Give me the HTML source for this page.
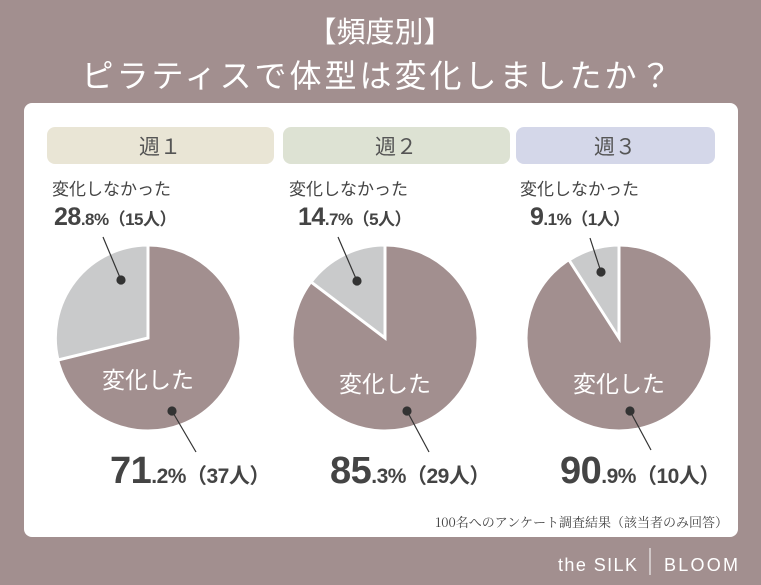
<!DOCTYPE html>
<html><head><meta charset="utf-8"><style>
html,body{margin:0;padding:0;background:#a28f8f;}
svg{display:block;font-family:"Liberation Sans","Noto Sans CJK JP",sans-serif;}
</style></head><body>
<svg width="761" height="585" viewBox="0 0 761 585">
<rect width="761" height="585" fill="#a28f8f"/>
<text x="380" y="42" text-anchor="middle" font-size="29" fill="#fff">【頻度別】</text>
<text x="378" y="87" text-anchor="middle" font-size="32" fill="#fff" letter-spacing="3">ピラティスで体型は変化しましたか？</text>
<rect x="24" y="103" width="714" height="434" rx="8" fill="#fff"/>
<rect x="47" y="127" width="227" height="37" rx="8" fill="#e9e5d5"/>
<rect x="283" y="127" width="227" height="37" rx="8" fill="#dde2d3"/>
<rect x="516" y="127" width="199" height="37" rx="8" fill="#d4d7e9"/>
<g font-size="21" fill="#555" text-anchor="middle">
<text x="160" y="154">週１</text><text x="396" y="154">週２</text><text x="615" y="154">週３</text>
</g>
<g stroke="#fff" stroke-width="3">
<circle cx="148" cy="338" r="93" fill="#a28f8f"/>
<path d="M148 338 L58 360 A93 93 0 0 1 148 245 Z" fill="#c9cacb"/>
<circle cx="385" cy="338" r="93" fill="#a28f8f"/>
<path d="M385 338 L311 282 A93 93 0 0 1 385 245 Z" fill="#c9cacb"/>
<circle cx="619" cy="338" r="93" fill="#a28f8f"/>
<path d="M619 338 L569 260 A93 93 0 0 1 619 245 Z" fill="#c9cacb"/>
</g>
<g font-size="23" fill="#fff" text-anchor="middle">
<text x="148" y="388">変化した</text><text x="385" y="392">変化した</text><text x="619" y="392">変化した</text>
</g>
<g stroke="#333" stroke-width="1.2" fill="#333">
<line x1="121" y1="280" x2="103" y2="237"/><circle cx="121" cy="280" r="4"/>
<line x1="172" y1="411" x2="196" y2="452"/><circle cx="172" cy="411" r="4"/>
<line x1="357" y1="281" x2="338" y2="237"/><circle cx="357" cy="281" r="4"/>
<line x1="407" y1="411" x2="429" y2="452"/><circle cx="407" cy="411" r="4"/>
<line x1="601" y1="272" x2="590" y2="238"/><circle cx="601" cy="272" r="4"/>
<line x1="630" y1="411" x2="651" y2="450"/><circle cx="630" cy="411" r="4"/>
</g>
<g font-size="17" fill="#444">
<text x="52" y="195">変化しなかった</text><text x="289" y="195">変化しなかった</text><text x="520" y="195">変化しなかった</text>
</g>
<g fill="#444" font-weight="bold" letter-spacing="-0.5">
<text x="54" y="225"><tspan font-size="25">28</tspan><tspan font-size="17">.8%（15人）</tspan></text>
<text x="298" y="225"><tspan font-size="25">14</tspan><tspan font-size="17">.7%（5人）</tspan></text>
<text x="530" y="225"><tspan font-size="25">9</tspan><tspan font-size="17">.1%（1人）</tspan></text>
<text x="110" y="483"><tspan font-size="38">71</tspan><tspan font-size="21">.2%（37人）</tspan></text>
<text x="330" y="483"><tspan font-size="38">85</tspan><tspan font-size="21">.3%（29人）</tspan></text>
<text x="560" y="483"><tspan font-size="38">90</tspan><tspan font-size="21">.9%（10人）</tspan></text>
</g>
<text x="728" y="527" text-anchor="end" font-size="13" fill="#444" font-family="'Noto Serif CJK SC',serif">100名へのアンケート調査結果（該当者のみ回答）</text>
<text x="558" y="571" font-size="18" fill="#fff" textLength="79" lengthAdjust="spacing">the SILK</text>
<line x1="650" y1="548" x2="650" y2="575" stroke="#fff" stroke-width="1"/>
<text x="664" y="571" font-size="18" fill="#fff" textLength="74" lengthAdjust="spacing">BLOOM</text>
</svg>
</body></html>
